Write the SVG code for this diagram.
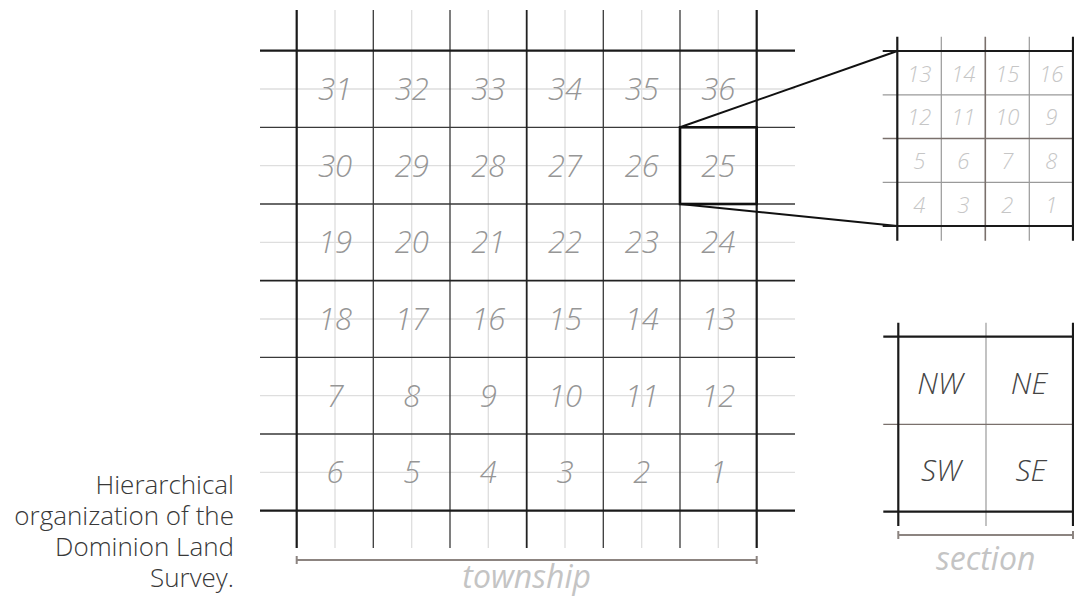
<svg xmlns="http://www.w3.org/2000/svg" width="1074" height="600" viewBox="0 0 1074 600">
<style>
.bg{fill:#ffffff}
.light{stroke:#dedede;stroke-width:1.3;fill:none}
.thin{stroke:#3a3a3a;stroke-width:1.3;fill:none}
.thick{stroke:#1a1a1a;stroke-width:2.2;fill:none}
.mid{stroke:#222;stroke-width:1.8;fill:none}
.sthin{stroke:#9a9a9a;stroke-width:1.2;fill:none}
.sbrown{stroke:#7a706c;stroke-width:1.6;fill:none}
.scale{stroke:#8c8480;stroke-width:2;fill:none}
.conn{stroke:#111;stroke-width:2;fill:none}
.hl{stroke:#111;stroke-width:2.6;fill:none}
.tnum{font-family:"Open Sans","Liberation Sans",sans-serif;font-style:italic;font-weight:300;font-size:31px;fill:#969696;text-anchor:middle}
.snum{font-family:"Open Sans","Liberation Sans",sans-serif;font-style:italic;font-weight:300;font-size:22px;fill:#c6c6c6;text-anchor:middle}
.qtxt{font-family:"Open Sans","Liberation Sans",sans-serif;font-style:italic;font-weight:300;font-size:30px;fill:#444;text-anchor:middle}
.lbl{font-family:"Open Sans","Liberation Sans",sans-serif;font-style:italic;font-weight:400;font-size:32px;fill:#c4c4c4;text-anchor:middle}
.cap{font-family:"Open Sans","Liberation Sans",sans-serif;font-weight:300;font-size:26px;fill:#383838;text-anchor:end}
</style>
<rect class="bg" x="0" y="0" width="1074" height="600"/>

<g id="township">
  <g id="township-light">
    <path class="light" d="M335 10V548M411.7 10V548M488.3 10V548M565 10V548M641.7 10V548M718.3 10V548"/>
    <path class="light" d="M260 89H795M260 165.7H795M260 242.3H795M260 319H795M260 395.7H795M260 472.3H795"/>
  </g>
  <g id="township-lines">
    <path class="thin" d="M373.3 10V548M450 10V548M603.3 10V548M680 10V548"/>
    <path class="thin" d="M260 127.3H795M260 204H795M260 357.3H795M260 434H795"/>
    <path class="mid" d="M526.7 10V548M260 280.7H795"/>
    <path class="thick" d="M296.7 10V548M756.7 10V548M260 50.7H795M260 510.7H795"/>
  </g>
  <rect id="section-25-highlight" class="hl" x="680" y="127.3" width="76.7" height="76.7"/>
  <g id="township-numbers">
    <text class="tnum" x="335" y="100">31</text><text class="tnum" x="411.7" y="100">32</text><text class="tnum" x="488.3" y="100">33</text><text class="tnum" x="565" y="100">34</text><text class="tnum" x="641.7" y="100">35</text><text class="tnum" x="718.3" y="100">36</text>
    <text class="tnum" x="335" y="176.7">30</text><text class="tnum" x="411.7" y="176.7">29</text><text class="tnum" x="488.3" y="176.7">28</text><text class="tnum" x="565" y="176.7">27</text><text class="tnum" x="641.7" y="176.7">26</text><text class="tnum" x="718.3" y="176.7">25</text>
    <text class="tnum" x="335" y="253.3">19</text><text class="tnum" x="411.7" y="253.3">20</text><text class="tnum" x="488.3" y="253.3">21</text><text class="tnum" x="565" y="253.3">22</text><text class="tnum" x="641.7" y="253.3">23</text><text class="tnum" x="718.3" y="253.3">24</text>
    <text class="tnum" x="335" y="330">18</text><text class="tnum" x="411.7" y="330">17</text><text class="tnum" x="488.3" y="330">16</text><text class="tnum" x="565" y="330">15</text><text class="tnum" x="641.7" y="330">14</text><text class="tnum" x="718.3" y="330">13</text>
    <text class="tnum" x="335" y="406.7">7</text><text class="tnum" x="411.7" y="406.7">8</text><text class="tnum" x="488.3" y="406.7">9</text><text class="tnum" x="565" y="406.7">10</text><text class="tnum" x="641.7" y="406.7">11</text><text class="tnum" x="718.3" y="406.7">12</text>
    <text class="tnum" x="335" y="483.3">6</text><text class="tnum" x="411.7" y="483.3">5</text><text class="tnum" x="488.3" y="483.3">4</text><text class="tnum" x="565" y="483.3">3</text><text class="tnum" x="641.7" y="483.3">2</text><text class="tnum" x="718.3" y="483.3">1</text>
  </g>
  <g id="township-scale">
    <path class="scale" d="M296.7 560H756.7M296.7 556V564M756.7 556V564"/>
    <text class="lbl" x="526.7" y="588">township</text>
  </g>
</g>

<g id="connectors">
  <line class="conn" x1="680" y1="127.3" x2="897.3" y2="51"/>
  <line class="conn" x1="680" y1="204" x2="897.3" y2="226"/>
</g>

<g id="section-detail">
  <path class="sthin" d="M941.3 36.7V240.7M1029.3 36.7V240.7M882.7 94.8H1074M882.7 182.3H1074"/>
  <path class="sbrown" d="M985.3 36.7V240.7M882.7 138.5H1074"/>
  <path class="thick" d="M897.3 36.7V240.7M1073 36.7V240.7M882.7 51H1074M882.7 226H1074"/>
  <text class="snum" x="919.3" y="81.5">13</text><text class="snum" x="963.3" y="81.5">14</text><text class="snum" x="1007.3" y="81.5">15</text><text class="snum" x="1051.3" y="81.5">16</text>
  <text class="snum" x="919.3" y="125">12</text><text class="snum" x="963.3" y="125">11</text><text class="snum" x="1007.3" y="125">10</text><text class="snum" x="1051.3" y="125">9</text>
  <text class="snum" x="919.3" y="168.8">5</text><text class="snum" x="963.3" y="168.8">6</text><text class="snum" x="1007.3" y="168.8">7</text><text class="snum" x="1051.3" y="168.8">8</text>
  <text class="snum" x="919.3" y="212.5">4</text><text class="snum" x="963.3" y="212.5">3</text><text class="snum" x="1007.3" y="212.5">2</text><text class="snum" x="1051.3" y="212.5">1</text>
</g>

<g id="quarter-sections">
  <path class="sthin" d="M986 322.7V526"/>
  <path class="sbrown" style="stroke-width:1.2" d="M883.3 424.3H1074"/>
  <path class="thick" d="M898.3 322.7V526M1073 322.7V526M883.3 336.7H1074M883.3 511.7H1074"/>
  <text class="qtxt" x="940" y="393.5">NW</text>
  <text class="qtxt" x="1029" y="393.5">NE</text>
  <text class="qtxt" x="941" y="481">SW</text>
  <text class="qtxt" x="1031" y="481">SE</text>
  <g id="section-scale">
    <path class="scale" d="M898.3 535H1073M898.3 531V539M1073 531V539"/>
    <text class="lbl" x="985.7" y="570">section</text>
  </g>
</g>

<g id="caption">
  <text class="cap" x="234" y="494">Hierarchical</text>
  <text class="cap" x="234" y="525">organization of the</text>
  <text class="cap" x="234" y="556">Dominion Land</text>
  <text class="cap" x="234" y="587">Survey.</text>
</g>
</svg>
